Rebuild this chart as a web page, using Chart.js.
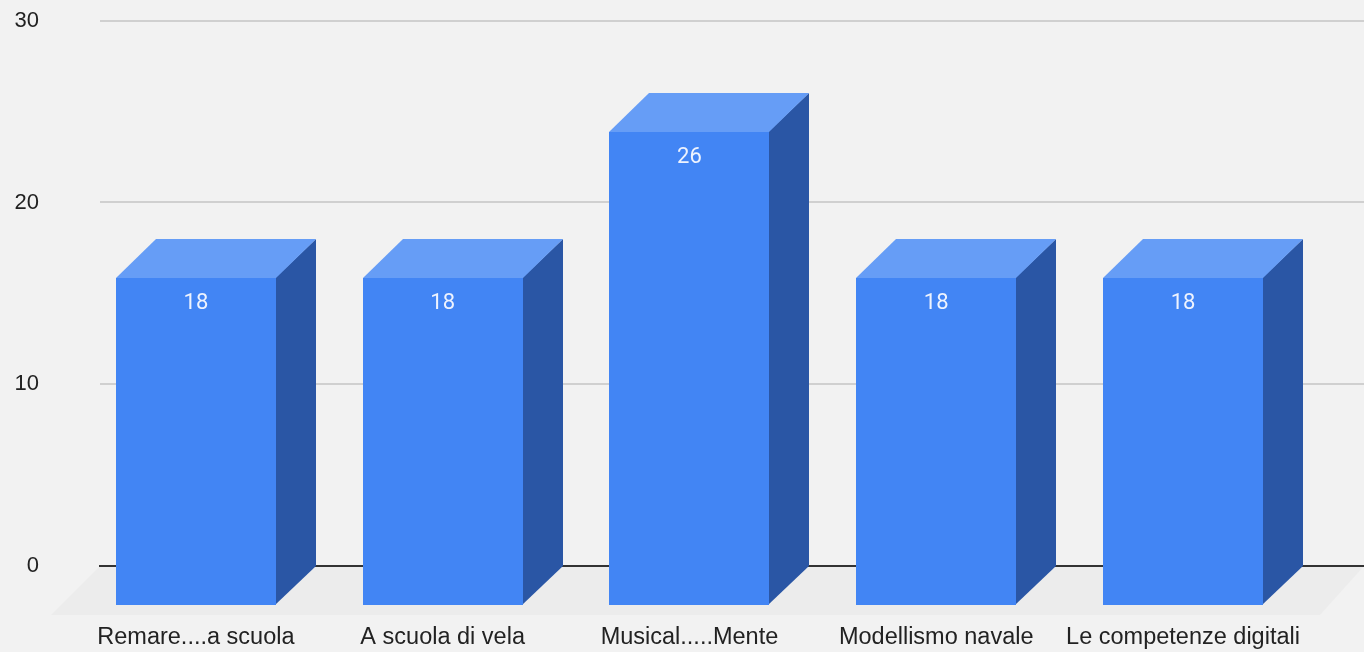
<!DOCTYPE html>
<html>
<head>
<meta charset="utf-8">
<script src="https://cdn.jsdelivr.net/npm/chart.js@4"></script>
<style>
  html, body { margin: 0; padding: 0; background: #f2f2f2; }
  #wrap { width: 1364px; height: 652px; }
</style>
</head>
<body>
<div id="wrap"><canvas id="myBarChart"></canvas></div>
<script>
const categories = ["Remare....a scuola", "A scuola di vela", "Musical.....Mente", "Modellismo navale", "Le competenze digitali"];
const values = [18, 18, 26, 18, 18];
const tickValues = [0, 10, 20, 30];

// depth of the 3d boxes (front face is shifted left/down from the back wall)
const DX = 40, DY = 39;

// back wall, floor and 3d boxes
const box3d = {
    id: 'box3d',
    beforeDatasetsDraw(chart) {
        const ctx = chart.ctx;
        const y = chart.scales.y;
        const y0 = y.getPixelForValue(0);
        ctx.save();
        // floor
        ctx.fillStyle = '#ececec';
        ctx.beginPath();
        ctx.moveTo(100, y0);
        ctx.lineTo(1364, y0);
        ctx.lineTo(1320, y0 + 49);
        ctx.lineTo(51, y0 + 49);
        ctx.closePath();
        ctx.fill();
        // grid lines on back wall
        tickValues.forEach(v => {
            const py = Math.round(y.getPixelForValue(v));
            ctx.beginPath();
            ctx.moveTo(v === 0 ? 99 : 100, py);
            ctx.lineTo(1364, py);
            ctx.lineWidth = 2;
            ctx.strokeStyle = v === 0 ? '#333333' : '#d0d0d0';
            ctx.stroke();
        });
        ctx.restore();
    },
    afterDatasetsDraw(chart) {
        const ctx = chart.ctx;
        const meta = chart.getDatasetMeta(0);
        ctx.save();
        meta.data.forEach((bar, i) => {
            const p = bar.getProps(['x', 'y', 'base', 'width'], true);
            const l = Math.round(p.x - p.width / 2), r = Math.round(p.x + p.width / 2);
            const top = Math.round(p.y), base = Math.round(p.base);
            // side (drawn first, front overlaps its edge)
            ctx.fillStyle = '#2a56a5';
            ctx.beginPath();
            ctx.moveTo(r - 1, top + DY);
            ctx.lineTo(r + DX, top);
            ctx.lineTo(r + DX, base);
            ctx.lineTo(r - 1, base + DY);
            ctx.closePath();
            ctx.fill();
            // top
            ctx.fillStyle = '#669df6';
            ctx.beginPath();
            ctx.moveTo(l, top + DY);
            ctx.lineTo(l + DX, top);
            ctx.lineTo(r + DX, top);
            ctx.lineTo(r, top + DY);
            ctx.closePath();
            ctx.fill();
            // front
            ctx.fillStyle = '#4285f4';
            ctx.fillRect(l, top + DY, r - l, base - top);
            // value label
            ctx.fillStyle = '#eef3fe';
            ctx.font = '22px Roboto, Arial, sans-serif';
            ctx.textAlign = 'center';
            ctx.textBaseline = 'middle';
            ctx.fillText(String(values[i]), p.x, top + DY + 25);
        });
        ctx.restore();
    }
};

const data = {
    labels: categories,
    datasets: [{
        label: 'Iscritti',
        data: values,
        backgroundColor: 'rgba(0,0,0,0)',
        borderWidth: 0,
        barThickness: 160
    }]
};

const config = {
    type: 'bar',
    data: data,
    options: {
        responsive: true,
        maintainAspectRatio: false,
        animation: false,
        layout: {
            padding: { top: 20.7, right: 57.6, left: 0, bottom: 0 }
        },
        plugins: {
            legend: { display: false },
            tooltip: { enabled: false }
        },
        scales: {
            x: {
                grid: { display: false, drawTicks: false },
                border: { display: false },
                ticks: {
                    color: '#222222',
                    font: { family: 'Arial, "Liberation Sans", sans-serif', size: 23.5 },
                    padding: 57,
                    maxRotation: 0,
                    autoSkip: false
                },
                afterFit(scale) { scale.height = 86; }
            },
            y: {
                min: 0,
                max: 30,
                grid: { display: false, drawTicks: false },
                border: { display: false },
                ticks: {
                    stepSize: 10,
                    color: '#222222',
                    font: { family: 'Arial, "Liberation Sans", sans-serif', size: 22 },
                    padding: 33.5
                },
                afterFit(scale) {
                    scale.width = 72.5;
                    scale.paddingTop = 0;
                    scale.paddingBottom = 0;
                }
            }
        }
    },
    plugins: [box3d]
};

const myBarChart = new Chart(document.getElementById('myBarChart'), config);
</script>
</body>
</html>
